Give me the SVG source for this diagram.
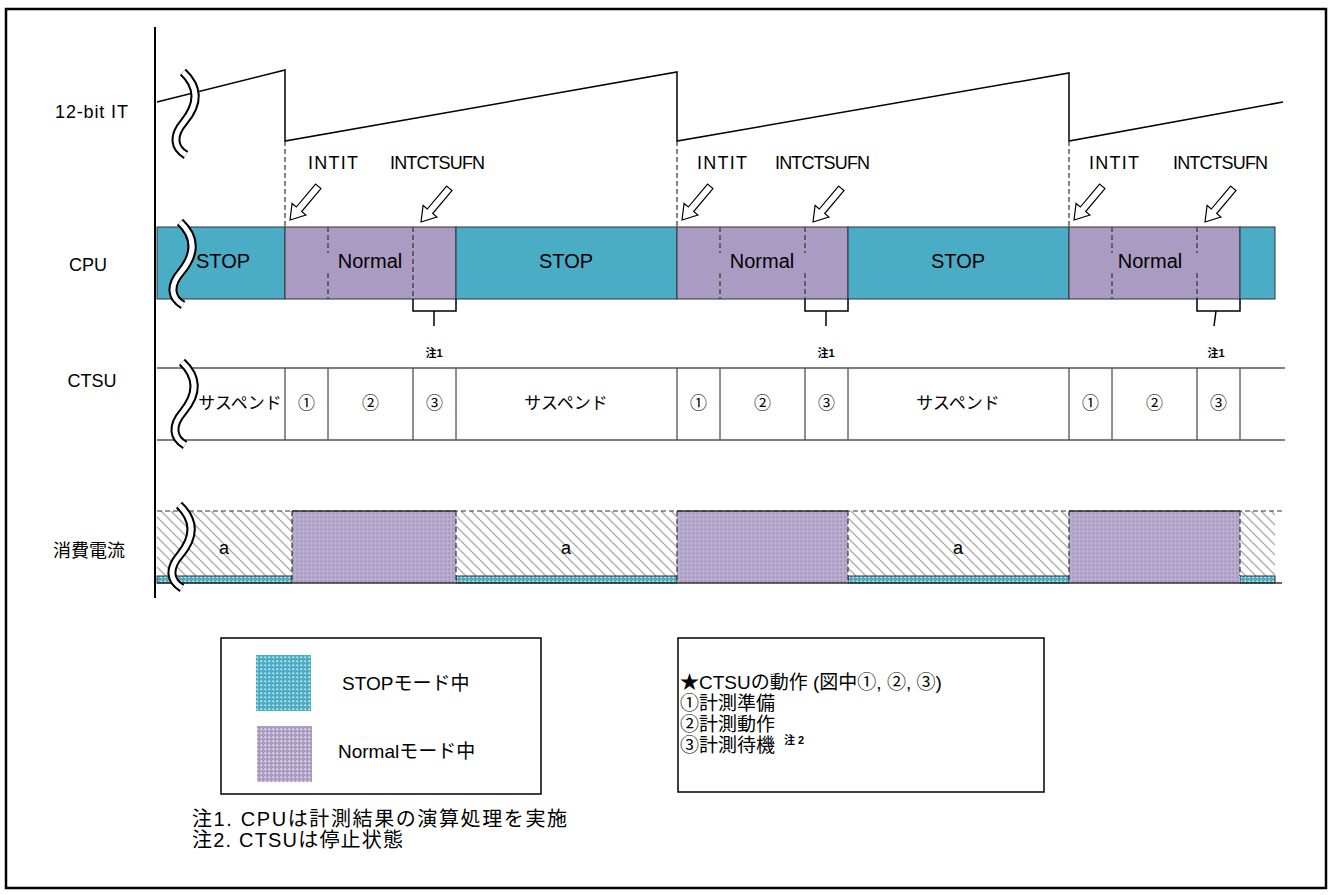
<svg xmlns="http://www.w3.org/2000/svg" width="1330" height="895" viewBox="0 0 1330 895">
<style>
text{font-family:"Liberation Sans","Noto Sans CJK JP",sans-serif;fill:#000}
.lbl{font-size:18px}
.big{font-size:20px}
.mid{font-size:17px;text-anchor:middle}
.note{font-size:11px;font-weight:bold;text-anchor:middle}
.ln{stroke:#000;stroke-width:1.5;fill:none}
.gl{stroke:#555;stroke-width:1.3;fill:none}
.dash{stroke:#333;stroke-width:1.2;stroke-dasharray:5 3;fill:none}
.teal{fill:#4BACC6;stroke:#333;stroke-width:1}
.purp{fill:#A99BC1;stroke:#333;stroke-width:1}
.brk1{fill:none;stroke:#000;stroke-width:9}
.brk2{fill:none;stroke:#fff;stroke-width:5}
.arr{fill:#fff;stroke:#000;stroke-width:1.2}
</style>
<defs>
<pattern id="hatch" width="10" height="10" patternUnits="userSpaceOnUse">
<path d="M0,0 L10,10 M-5,5 L5,15 M5,-5 L15,5" stroke="#aaa" stroke-width="1.3"/>
</pattern>
<pattern id="tdots" width="4" height="4" patternUnits="userSpaceOnUse">
<rect width="4" height="4" fill="#4BACC6"/><rect x="0.5" y="0.5" width="1.6" height="1.6" fill="#fff" fill-opacity="0.85"/>
</pattern>
<pattern id="pdots" width="4" height="4" patternUnits="userSpaceOnUse">
<rect width="4" height="4" fill="#A99BC1"/><rect x="0.5" y="0.5" width="1.6" height="1.6" fill="#fff" fill-opacity="0.85"/>
</pattern>
<pattern id="pdots2" width="4" height="4" patternUnits="userSpaceOnUse">
<rect width="4" height="4" fill="#B8ACCF"/><rect x="0.5" y="0.5" width="1.6" height="1.6" fill="#9A8AB6"/>
</pattern>
<path id="brk" d="M13,2 C30,18 28,35 14,52 C2,66 4,78 16,85"/>
<polygon id="arrow" points="0,0 -14,-9 -14,-3.5 -44,-3.5 -44,3.5 -14,3.5 -14,9"/>
</defs>

<rect x="6" y="9" width="1320" height="879" fill="#fff" stroke="#000" stroke-width="2.5"/>

<g id="row-labels">
<text class="lbl" x="55" y="118" textLength="73">12-bit IT</text>
<text class="lbl" x="88" y="271" text-anchor="middle">CPU</text>
<text class="lbl" x="92" y="387" text-anchor="middle">CTSU</text>
<text class="lbl" x="89" y="557" text-anchor="middle" font-size="19">消費電流</text>
</g>

<g id="timer">
<path class="ln" d="M157,102 L285,70 L285,141 L677,72 L677,141 L1069,73 L1069,141 L1283,102"/>
</g>

<g id="connectors">
<line class="dash" x1="285" y1="141" x2="285" y2="227"/>
<line class="dash" x1="677" y1="141" x2="677" y2="227"/>
<line class="dash" x1="1069" y1="141" x2="1069" y2="227"/>
<use href="#arrow" class="arr" transform="translate(290,220) rotate(130)"/>
<use href="#arrow" class="arr" transform="translate(421,222) rotate(130)"/>
<use href="#arrow" class="arr" transform="translate(682,220) rotate(130)"/>
<use href="#arrow" class="arr" transform="translate(813,222) rotate(130)"/>
<use href="#arrow" class="arr" transform="translate(1074,220) rotate(130)"/>
<use href="#arrow" class="arr" transform="translate(1205,222) rotate(130)"/>
</g>

<g id="interrupt-labels">
<text class="lbl" x="308" y="169" textLength="50">INTIT</text>
<text class="lbl" x="390" y="169" textLength="95">INTCTSUFN</text>
<text class="lbl" x="697" y="169" textLength="50">INTIT</text>
<text class="lbl" x="775" y="169" textLength="95">INTCTSUFN</text>
<text class="lbl" x="1089" y="169" textLength="50">INTIT</text>
<text class="lbl" x="1173" y="169" textLength="95">INTCTSUFN</text>
</g>

<g id="cpu-row">
<rect class="teal" x="157" y="227" width="128" height="72"/>
<rect class="purp" x="285" y="227" width="171" height="72"/>
<rect class="teal" x="456" y="227" width="221" height="72"/>
<rect class="purp" x="677" y="227" width="171" height="72"/>
<rect class="teal" x="848" y="227" width="221" height="72"/>
<rect class="purp" x="1069" y="227" width="171" height="72"/>
<rect class="teal" x="1240" y="227" width="35" height="72"/>
<path class="dash" d="M328,227 V253 M328,273 V299 M413,227 V299 M720,227 V253 M720,273 V299 M805,227 V253 M805,273 V299 M1112,227 V253 M1112,273 V299 M1197,227 V253 M1197,273 V299"/>
<text class="big" x="223" y="268" text-anchor="middle">STOP</text>
<text class="big" x="370" y="268" text-anchor="middle">Normal</text>
<text class="big" x="566" y="268" text-anchor="middle">STOP</text>
<text class="big" x="762" y="268" text-anchor="middle">Normal</text>
<text class="big" x="958" y="268" text-anchor="middle">STOP</text>
<text class="big" x="1150" y="268" text-anchor="middle">Normal</text>
<path class="ln" d="M413,299 V311 H456 V299 M434,311 V326 M805,299 V311 H848 V299 M826,311 V326 M1197,299 V311 H1240 V299 M1216,311 L1214,326"/>
<text class="note" x="434" y="357">注1</text>
<text class="note" x="826" y="357">注1</text>
<text class="note" x="1216" y="357">注1</text>
</g>

<g id="ctsu-row">
<path class="gl" d="M157,368 H1285 M157,440 H1285 M285,368 V440 M328,368 V440 M413,368 V440 M456,368 V440 M677,368 V440 M720,368 V440 M805,368 V440 M848,368 V440 M1069,368 V440 M1112,368 V440 M1197,368 V440 M1240,368 V440"/>
<text class="mid" x="240" y="409">サスペンド</text>
<text class="mid" x="306.5" y="409" font-size="18">①</text>
<text class="mid" x="370.5" y="409" font-size="18">②</text>
<text class="mid" x="434.5" y="409" font-size="18">③</text>
<text class="mid" x="566" y="409">サスペンド</text>
<text class="mid" x="698.5" y="409" font-size="18">①</text>
<text class="mid" x="762.5" y="409" font-size="18">②</text>
<text class="mid" x="826.5" y="409" font-size="18">③</text>
<text class="mid" x="958" y="409">サスペンド</text>
<text class="mid" x="1090.5" y="409" font-size="18">①</text>
<text class="mid" x="1154.5" y="409" font-size="18">②</text>
<text class="mid" x="1218.5" y="409" font-size="18">③</text>
</g>

<g id="current-row">
<rect x="157" y="511" width="135" height="65" fill="url(#hatch)"/>
<rect x="456" y="511" width="221" height="65" fill="url(#hatch)"/>
<rect x="848" y="511" width="221" height="65" fill="url(#hatch)"/>
<rect x="1240" y="511" width="35" height="65" fill="url(#hatch)"/>
<rect x="157" y="576" width="135" height="7" fill="url(#tdots)" stroke="#333" stroke-width="1"/>
<rect x="456" y="576" width="221" height="7" fill="url(#tdots)" stroke="#333" stroke-width="1"/>
<rect x="848" y="576" width="221" height="7" fill="url(#tdots)" stroke="#333" stroke-width="1"/>
<rect x="1240" y="576" width="35" height="7" fill="url(#tdots)" stroke="#333" stroke-width="1"/>
<rect x="292" y="511" width="164" height="72" fill="url(#pdots2)"/>
<rect x="677" y="511" width="171" height="72" fill="url(#pdots2)"/>
<rect x="1069" y="511" width="171" height="72" fill="url(#pdots2)"/>
<path class="dash" d="M157,511 H1282 M292,511 V583 M456,511 V583 M677,511 V583 M848,511 V583 M1069,511 V583 M1240,511 V576"/>
<path stroke="#333" stroke-width="1.3" fill="none" d="M292,511 H456 M677,511 H848 M1069,511 H1240 M157,583 H1282"/>
<text class="lbl" x="224" y="554" text-anchor="middle">a</text>
<text class="lbl" x="566" y="554" text-anchor="middle">a</text>
<text class="lbl" x="958" y="554" text-anchor="middle">a</text>
</g>

<g id="axis">
<line x1="155" y1="27" x2="155" y2="598" stroke="#000" stroke-width="2"/>
</g>

<g id="breaks">
<use href="#brk" class="brk1" transform="translate(170,70)"/>
<use href="#brk" class="brk2" transform="translate(170,70)"/>
<use href="#brk" class="brk1" transform="translate(167,220)"/>
<use href="#brk" class="brk2" transform="translate(167,220)"/>
<use href="#brk" class="brk1" transform="translate(169,360)"/>
<use href="#brk" class="brk2" transform="translate(169,360)"/>
<use href="#brk" class="brk1" transform="translate(166,503)"/>
<use href="#brk" class="brk2" transform="translate(166,503)"/>
</g>

<g id="legend-modes">
<rect x="221" y="638" width="320" height="156" fill="#fff" stroke="#000" stroke-width="1.5"/>
<rect x="256" y="655" width="55" height="56" fill="url(#tdots)"/>
<rect x="257" y="726" width="55" height="56" fill="url(#pdots)"/>
<text x="342" y="690" font-size="19">STOPモード中</text>
<text x="338" y="758" font-size="19">Normalモード中</text>
</g>

<g id="legend-ctsu">
<rect x="678" y="638" width="366" height="154" fill="#fff" stroke="#000" stroke-width="1.5"/>
<text x="680" y="689" font-size="19">★CTSUの動作 (図中①, ②, ③)</text>
<text x="680" y="710" font-size="19">①計測準備</text>
<text x="680" y="731" font-size="19">②計測動作</text>
<text x="680" y="752" font-size="19">③計測待機</text>
<text x="784" y="744" font-size="11" font-weight="bold">注 2</text>
</g>

<g id="footnotes">
<text x="192" y="826" font-size="20" textLength="375">注1. CPUは計測結果の演算処理を実施</text>
<text x="192" y="847" font-size="20" textLength="211">注2. CTSUは停止状態</text>
</g>
</svg>
